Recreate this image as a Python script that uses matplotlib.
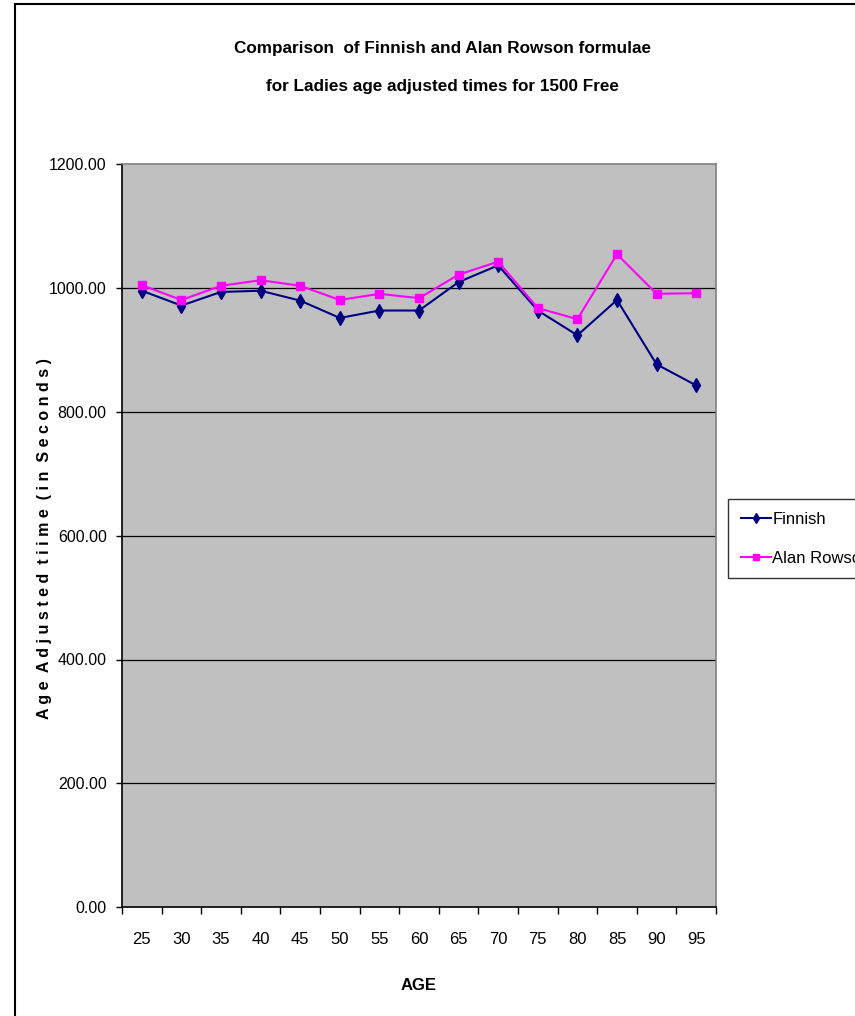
import matplotlib
matplotlib.use("Agg")
import matplotlib.pyplot as plt
from matplotlib.patches import Rectangle
import numpy as np

plt.rcParams['font.family'] = ['Liberation Sans Narrow', 'Liberation Sans', 'DejaVu Sans']

ages = ['25', '30', '35', '40', '45', '50', '55', '60', '65', '70', '75', '80', '85', '90', '95']
finnish = [996, 972, 994, 996, 980, 952, 964, 964, 1010, 1037, 964, 924, 981, 877, 843]
rowson = [1005, 981, 1004, 1013, 1004, 981, 991, 984, 1022, 1043, 968, 950, 1055, 991, 992]
yticks = [0, 200, 400, 600, 800, 1000, 1200]

fig = plt.figure(figsize=(8.55, 10.16), dpi=100)
ax = fig.add_axes([122 / 855, 1 - 907 / 1016, (716 - 122) / 855, (907 - 164.5) / 1016])
ax.set_facecolor('#C0C0C0')

x = np.arange(len(ages))
ax.plot(x, finnish, color='#000080', marker='d', markersize=7, linewidth=1.5, label='Finnish', zorder=3)
ax.plot(x, rowson, color='#FF00FF', marker='s', markersize=6, linewidth=1.5, label='Alan Rowson', zorder=3)

ax.set_xlim(-0.5, len(ages) - 0.5)
ax.set_ylim(0, 1200)
ax.set_yticks(yticks)
ax.set_yticklabels([f'{v:.2f}' for v in yticks], fontsize=11.5)
ax.set_xticks(x)
ax.set_xticklabels(ages, fontsize=12)
ax.set_xticks(np.arange(-0.5, len(ages)), minor=True)
ax.tick_params(axis='x', which='major', length=0, pad=18)
ax.tick_params(axis='x', which='minor', length=5, width=1, direction='out')
ax.tick_params(axis='y', length=4, width=1, pad=7, direction='out')

for v in yticks[1:-1]:
    ax.axhline(v, color='black', linewidth=0.9, zorder=1)

for s in ['left', 'bottom']:
    ax.spines[s].set_color('black')
    ax.spines[s].set_linewidth(1.2)
for s in ['top', 'right']:
    ax.spines[s].set_color('#808080')
    ax.spines[s].set_linewidth(1.2)

ax.set_xlabel('AGE', fontsize=12, fontweight='bold', labelpad=22)
fig.text(45 / 855, 1 - 539 / 1016,
         'A g e  A d j u s t e d  t i i m e  ( i n  S e c o n d s )',
         rotation=90, ha='center', va='center', fontsize=11.5, fontweight='bold')

fig.text(442 / 855, 1 - 48 / 1016, 'Comparison  of Finnish and Alan Rowson formulae',
         ha='center', va='center', fontsize=12.3, fontweight='bold')
fig.text(442 / 855, 1 - 86 / 1016, 'for Ladies age adjusted times for 1500 Free',
         ha='center', va='center', fontsize=12.3, fontweight='bold')

leg = fig.legend(loc='upper left', bbox_to_anchor=(728 / 855, 1 - 499 / 1016),
                 fontsize=12, frameon=True, fancybox=False, handlelength=1.8,
                 handletextpad=0.1, borderpad=0.75, labelspacing=1.45, borderaxespad=0,
                 markerscale=0.8)
leg.get_frame().set_edgecolor('black')
leg.get_frame().set_linewidth(1)

fig.add_artist(Rectangle((15 / 855, -0.1), 1.2, 0.1 + (1016 - 4) / 1016,
                         transform=fig.transFigure, fill=False,
                         edgecolor='black', linewidth=1.5))

fig.savefig('out.png', dpi=100)
